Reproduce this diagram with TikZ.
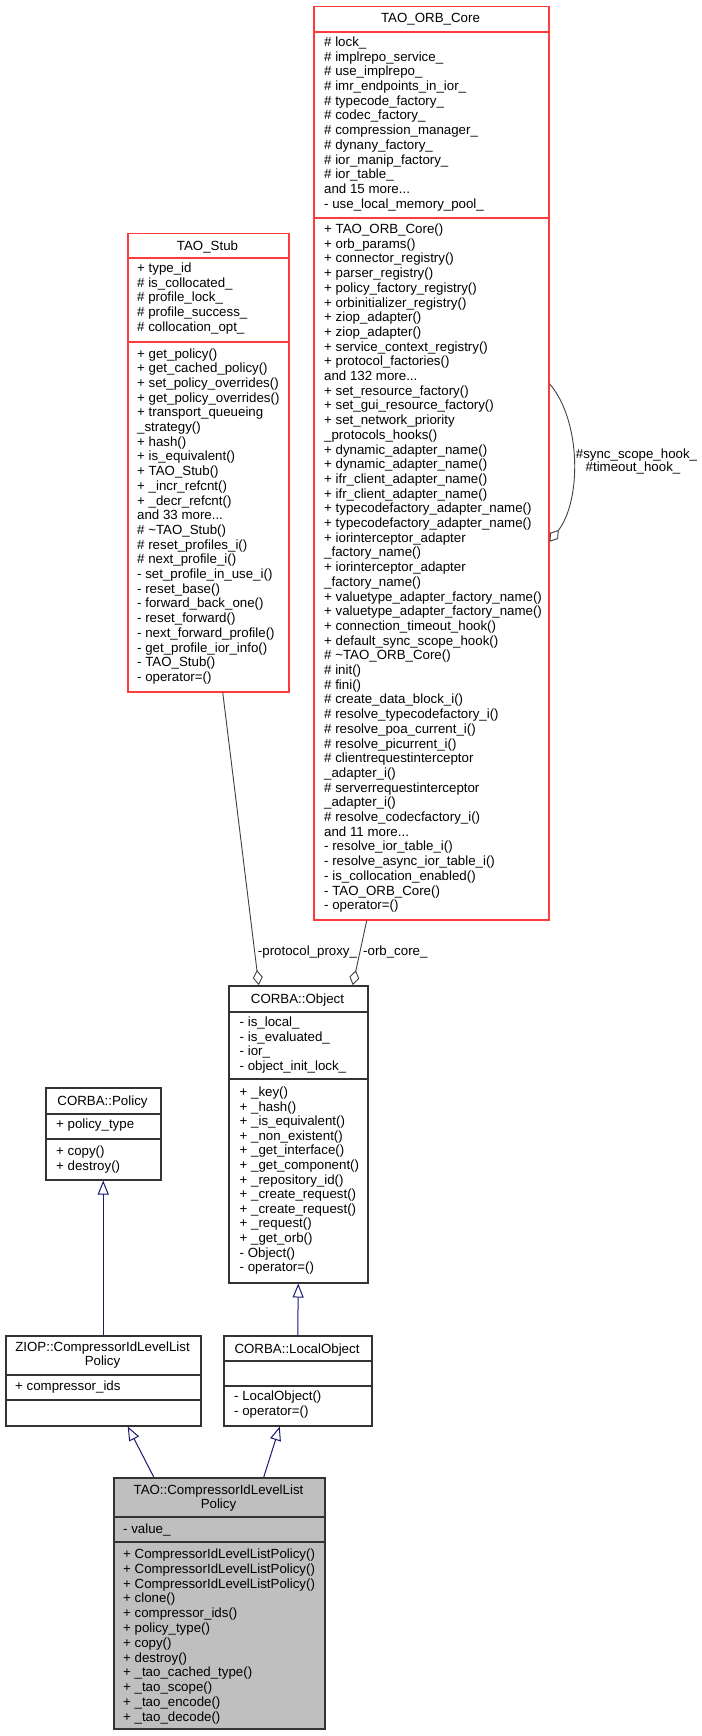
\documentclass[tikz,border=0pt]{standalone}
\usepackage{fontspec}
\setmainfont{Liberation Sans}
\usetikzlibrary{arrows.meta}
\definecolor{edgeblue}{HTML}{191970}
\definecolor{edgegray}{HTML}{404040}
\definecolor{boxred}{HTML}{FF3A3A}
\definecolor{boxgray}{HTML}{BFBFBF}
\newcommand{\cllist}[5]{%
  \foreach \itm [count=\i from 0] in {#5} {\node[txt, anchor=base west] (#1\i) at (#2, {#3+#4*\i}) {\itm};}%
}
\begin{document}
\begin{tikzpicture}[x=1pt,y=-1pt,
  txt/.style={inner sep=0pt, font=\fontsize{13.3}{14.7}\selectfont},
  clsbox/.style={draw=black!80, line width=1.5pt, anchor=north west, inner sep=0pt},
  redbox/.style={clsbox, draw=boxred},
  sepline/.style={draw=black!80, line width=1.5pt},
  sepred/.style={draw=boxred, line width=1.5pt},
  inh/.style={draw=edgeblue, line width=1pt, -{Triangle[open, length=14pt, width=11pt]}},
  agg/.style={draw=edgegray, line width=0.9pt, -{Diamond[open, length=15pt, width=10pt]}}
]
\useasboundingbox (0,0) rectangle (701,1736);
\fill[white] (0,0) rectangle (701,1736);

% ---------------- boxes
\node[redbox, minimum width=235pt, minimum height=913pt] (orb) at (313,6) {};
\node[redbox, minimum width=161pt, minimum height=458pt] (stub) at (127,233) {};
\node[clsbox, minimum width=139pt, minimum height=297pt] (obj) at (228,985) {};
\node[clsbox, minimum width=115pt, minimum height=92pt] (pol) at (45,1087) {};
\node[clsbox, minimum width=195pt, minimum height=90pt] (ziop) at (5,1335) {};
\node[clsbox, minimum width=148pt, minimum height=90pt] (lobj) at (223,1335) {};
\node[clsbox, fill=boxgray, minimum width=211pt, minimum height=251pt] (bot) at (113,1477) {};

% ---------------- separators
\draw[sepred] ([yshift=-26pt]orb.north west) -- ([yshift=-26pt]orb.north east);
\draw[sepred] ([yshift=-212pt]orb.north west) -- ([yshift=-212pt]orb.north east);
\draw[sepred] ([yshift=-25pt]stub.north west) -- ([yshift=-25pt]stub.north east);
\draw[sepred] ([yshift=-109pt]stub.north west) -- ([yshift=-109pt]stub.north east);
\draw[sepline] ([yshift=-27pt]obj.north west) -- ([yshift=-27pt]obj.north east);
\draw[sepline] ([yshift=-94pt]obj.north west) -- ([yshift=-94pt]obj.north east);
\draw[sepline] ([yshift=-27pt]pol.north west) -- ([yshift=-27pt]pol.north east);
\draw[sepline] ([yshift=-52pt]pol.north west) -- ([yshift=-52pt]pol.north east);
\draw[sepline] ([yshift=-40pt]ziop.north west) -- ([yshift=-40pt]ziop.north east);
\draw[sepline] ([yshift=-65pt]ziop.north west) -- ([yshift=-65pt]ziop.north east);
\draw[sepline] ([yshift=-26pt]lobj.north west) -- ([yshift=-26pt]lobj.north east);
\draw[sepline] ([yshift=-51pt]lobj.north west) -- ([yshift=-51pt]lobj.north east);
\draw[sepline] ([yshift=-40pt]bot.north west) -- ([yshift=-40pt]bot.north east);
\draw[sepline] ([yshift=-65pt]bot.north west) -- ([yshift=-65pt]bot.north east);

% ---------------- TAO_ORB_Core
\node[txt, anchor=base] (orbt) at (430.5,23) {TAO\_ORB\_Core};
\cllist{orba}{324}{46.5}{14.7}{\# lock\_, \# implrepo\_service\_, \# use\_implrepo\_, \# imr\_endpoints\_in\_ior\_, \# typecode\_factory\_, \# codec\_factory\_, \# compression\_manager\_, \# dynany\_factory\_, \# ior\_manip\_factory\_, \# ior\_table\_, and 15 more.{}.{}., - use\_local\_memory\_pool\_}
\cllist{orbm}{324}{233.5}{14.7}{+ TAO\_ORB\_Core(), + orb\_params(), + connector\_registry(), + parser\_registry(), + policy\_factory\_registry(), + orbinitializer\_registry(), + ziop\_adapter(), + ziop\_adapter(), + service\_context\_registry(), + protocol\_factories(), and 132 more.{}.{}., + set\_resource\_factory(), + set\_gui\_resource\_factory(), + set\_network\_priority, \_protocols\_hooks(), + dynamic\_adapter\_name(), + dynamic\_adapter\_name(), + ifr\_client\_adapter\_name(), + ifr\_client\_adapter\_name(), + typecodefactory\_adapter\_name(), + typecodefactory\_adapter\_name(), + iorinterceptor\_adapter, \_factory\_name(), + iorinterceptor\_adapter, \_factory\_name(), + valuetype\_adapter\_factory\_name(), + valuetype\_adapter\_factory\_name(), + connection\_timeout\_hook(), + default\_sync\_scope\_hook(), \# \textasciitilde TAO\_ORB\_Core(), \# init(), \# fini(), \# create\_data\_block\_i(), \# resolve\_typecodefactory\_i(), \# resolve\_poa\_current\_i(), \# resolve\_picurrent\_i(), \# clientrequestinterceptor, \_adapter\_i(), \# serverrequestinterceptor, \_adapter\_i(), \# resolve\_codecfactory\_i(), and 11 more.{}.{}., - resolve\_ior\_table\_i(), - resolve\_async\_ior\_table\_i(), - is\_collocation\_enabled(), - TAO\_ORB\_Core(), - operator=()}

% ---------------- TAO_Stub
\node[txt, anchor=base] (stubt) at (207.5,250.5) {TAO\_Stub};
\cllist{stuba}{137}{272.5}{14.7}{+ type\_id, \# is\_collocated\_, \# profile\_lock\_, \# profile\_success\_, \# collocation\_opt\_}
\cllist{stubm}{137}{358}{14.7}{+ get\_policy(), + get\_cached\_policy(), + set\_policy\_overrides(), + get\_policy\_overrides(), + transport\_queueing, \_strategy(), + hash(), + is\_equivalent(), + TAO\_Stub(), + \_incr\_refcnt(), + \_decr\_refcnt(), and 33 more.{}.{}., \# \textasciitilde TAO\_Stub(), \# reset\_profiles\_i(), \# next\_profile\_i(), - set\_profile\_in\_use\_i(), - reset\_base(), - forward\_back\_one(), - reset\_forward(), - next\_forward\_profile(), - get\_profile\_ior\_info(), - TAO\_Stub(), - operator=()}

% ---------------- CORBA::Object
\node[txt, anchor=base] (objt) at (297.5,1003) {CORBA::Object};
\cllist{obja}{239.5}{1026.5}{14.7}{- is\_local\_, - is\_evaluated\_, - ior\_, - object\_init\_lock\_}
\cllist{objm}{239.5}{1096.5}{14.6}{+ \_key(), + \_hash(), + \_is\_equivalent(), + \_non\_existent(), + \_get\_interface(), + \_get\_component(), + \_repository\_id(), + \_create\_request(), + \_create\_request(), + \_request(), + \_get\_orb(), - Object(), - operator=()}

% ---------------- CORBA::Policy
\node[txt, anchor=base] (polt) at (102.5,1105) {CORBA::Policy};
\cllist{pola}{56}{1128.5}{14.7}{+ policy\_type}
\cllist{polm}{56}{1155.5}{14.6}{+ copy(), + destroy()}

% ---------------- ZIOP::CompressorIdLevelListPolicy
\node[txt, anchor=base] (ziopt1) at (102.5,1351.5) {ZIOP::CompressorIdLevelList};
\node[txt, anchor=base] (ziopt2) at (102.5,1365.5) {Policy};
\cllist{ziopa}{15}{1390.5}{14.7}{+ compressor\_ids}

% ---------------- CORBA::LocalObject
\node[txt, anchor=base] (lobjt) at (297,1353) {CORBA::LocalObject};
\cllist{lobjm}{234}{1400.5}{15}{- LocalObject(), - operator=()}

% ---------------- TAO::CompressorIdLevelListPolicy
\node[txt, anchor=base] (bott1) at (218.5,1494.5) {TAO::CompressorIdLevelList};
\node[txt, anchor=base] (bott2) at (218.5,1508) {Policy};
\cllist{bota}{123}{1533.5}{14.7}{- value\_}
\cllist{botm}{123}{1558.5}{14.8}{+ CompressorIdLevelListPolicy(), + CompressorIdLevelListPolicy(), + CompressorIdLevelListPolicy(), + clone(), + compressor\_ids(), + policy\_type(), + copy(), + destroy(), + \_tao\_cached\_type(), + \_tao\_scope(), + \_tao\_encode(), + \_tao\_decode()}

% ---------------- inheritance
\draw[inh] (ziop.north) -- (pol.south);
\draw[inh] (lobj.north) -- (obj.south);
\draw[inh] ([xshift=-65.5pt]bot.north) -- ([xshift=24.5pt]ziop.south);
\draw[inh] ([xshift=44.5pt]bot.north) -- ([xshift=-18pt]lobj.south);

% ---------------- aggregation
\draw[agg] ([xshift=14.5pt]stub.south) -- ([xshift=-39.5pt]obj.north);
\draw[agg] ([xshift=-64.5pt]orb.south) -- ([xshift=54.5pt]obj.north);
\draw[agg] ([yshift=79.5pt]orb.east) .. controls +(32,37) and +(32,-41) .. ([yshift=-78.5pt]orb.east);

% ---------------- labels
\node[txt, anchor=base] (lblproxy) at (307.5,955.5) {-protocol\_proxy\_};
\node[txt, anchor=base west] (lblorb) at (363,955.5) {-orb\_core\_};
\node[txt, anchor=base] (lblsync) at (636.5,458.5) {\#sync\_scope\_hook\_};
\node[txt, anchor=base] (lbltime) at (633,471.5) {\#timeout\_hook\_};
\end{tikzpicture}
\end{document}
